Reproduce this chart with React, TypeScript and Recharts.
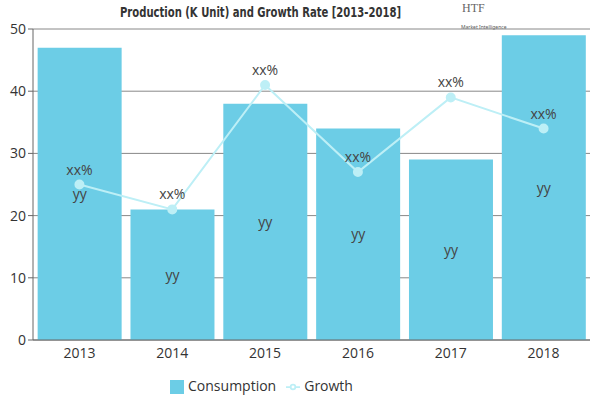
import React from "react";
import { ComposedChart, Bar, Line, XAxis, YAxis, CartesianGrid, Legend, LabelList } from "recharts";

const years = ["2013", "2014", "2015", "2016", "2017", "2018"];
const consumption = [47, 21, 38, 34, 29, 49];
const growth = [25, 21, 41, 27, 39, 34];
const barLabels = ["yy", "yy", "yy", "yy", "yy", "yy"];
const lineLabels = ["xx%", "xx%", "xx%", "xx%", "xx%", "xx%"];
const yTicks = [0, 10, 20, 30, 40, 50];

const data = years.map((y, i) => ({
  year: y,
  Consumption: consumption[i],
  Growth: growth[i],
  bl: barLabels[i],
  ll: lineLabels[i],
}));

const BAR = "#6ccde6";
const LINE = "#bdeff6";
const FONT = "'Open Sans', 'Noto Sans', sans-serif";

export default function App() {
  return (
    <div style={{ position: "absolute", left: 0, top: 0, width: 600, height: 400, background: "#fff", fontFamily: FONT }}>
      <svg width={600} height={26} style={{ position: "absolute", left: 0, top: 0 }}>
        <text x={0} y={0} transform="translate(120,17) scale(1,1.35)" textLength={281} lengthAdjust="spacingAndGlyphs"
          fontFamily="'DejaVu Sans Condensed', 'Liberation Sans Narrow', sans-serif" fontWeight={700} fontSize={11} fill="#333">
          Production (K Unit) and Growth Rate [2013-2018]
        </text>
      </svg>
      <div style={{ position: "absolute", left: 462, top: 2, fontFamily: "'Liberation Serif', serif", fontSize: 12, lineHeight: "13px", color: "#666" }}>HTF</div>
      <div style={{ position: "absolute", left: 461, top: 24, fontFamily: "'Noto Sans', sans-serif", fontSize: 5, lineHeight: "6px", color: "#555", whiteSpace: "nowrap" }}>Market Intelligence</div>
      <ComposedChart
        width={600}
        height={400}
        data={data}
        margin={{ top: 29, right: 10, left: 3, bottom: 5 }}
        barCategoryGap="5%"
      >
        <CartesianGrid horizontal vertical={false} stroke="#888" strokeDasharray="" />
        <XAxis dataKey="year" tickLine={false} stroke="#666" height={36}
          tick={{ fill: "#333", fontSize: 14, fontFamily: FONT }} />
        <YAxis domain={[0, 50]} ticks={yTicks} width={30} stroke="#666" tickSize={5}
          tick={{ fill: "#333", fontSize: 14, fontFamily: FONT }} />
        <Legend verticalAlign="bottom" iconSize={14}
          wrapperStyle={{ fontFamily: FONT, fontSize: 14, color: "#333", left: -27 }}
          formatter={(v: string) => <span style={{ color: "#333" }}>{v}</span>} />
        <Bar dataKey="Consumption" fill={BAR} isAnimationActive={false} legendType="square">
          <LabelList dataKey="bl" position="center" fill="#444" fontSize={14} fontFamily={FONT} />
        </Bar>
        <Line dataKey="Growth" stroke={LINE} strokeWidth={2} isAnimationActive={false}
          dot={{ r: 4, fill: LINE, stroke: LINE }} legendType="line">
          <LabelList dataKey="ll" position="top" offset={10} fill="#444" fontSize={14} fontFamily={FONT} />
        </Line>
      </ComposedChart>
    </div>
  );
}
